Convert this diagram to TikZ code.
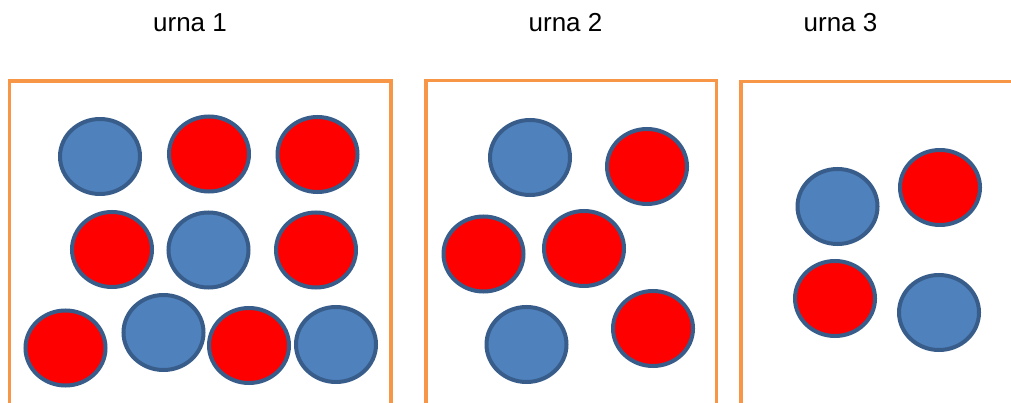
\documentclass[tikz,border=0pt]{standalone}
\usepackage{fontspec}
\setmainfont{Liberation Sans}
\definecolor{urnorange}{HTML}{F79646}
\definecolor{ballblue}{HTML}{4F81BD}
\definecolor{ballred}{HTML}{FF0000}
\definecolor{balledge}{HTML}{385D8A}
\tikzset{
  urnbox/.style={draw=urnorange, line width=3.8pt},
  ball/.style={ellipse, draw=balledge, line width=4pt, minimum width=80pt, minimum height=75pt, inner sep=0pt},
  bblue/.style={ball, fill=ballblue},
  bred/.style={ball, fill=ballred},
  urnlabel/.style={anchor=base, font=\fontsize{26}{31}\selectfont, inner sep=0pt}
}
\usetikzlibrary{shapes.geometric}
\begin{document}
\begin{tikzpicture}[x=1pt,y=-1pt]
\useasboundingbox (0,0) rectangle (1011,403);
\clip (0,0) rectangle (1011,403);
\fill[white] (0,0) rectangle (1011,403);
% labels
\node[urnlabel] (l1) at (190,31.7) {urna 1};
\node[urnlabel] (l2) at (565.5,31.7) {urna 2};
\node[urnlabel] (l3) at (840.5,31.7) {urna 3};
% boxes
\draw[urnbox] (9.5,406) -- (9.5,81) -- (391,81) -- (391,406);
\draw[urnbox] (426,406) -- (426,80.5) -- (716.5,80.5) -- (716.5,406);
\draw[urnbox] (741,406) -- (741,81.5) -- (1020,81.5);
% urna 1
\node[bblue] (a1) at (100,156.5) {};
\node[bred]  (a2) at (209,154) {};
\node[bred]  (a3) at (317.5,154.5) {};
\node[bred]  (a4) at (112,249.5) {};
\node[bblue] (a5) at (208.5,250) {};
\node[bred]  (a6) at (316,250) {};
\node[bred]  (a7) at (65.5,348) {};
\node[bblue] (a8) at (163.5,332.5) {};
\node[bred]  (a9) at (249,345.5) {};
\node[bblue] (a10) at (336,344.5) {};
% urna 2
\node[bblue] (b1) at (530,157.5) {};
\node[bred]  (b2) at (647,166.5) {};
\node[bred]  (b3) at (483.5,254) {};
\node[bred]  (b4) at (584,248.5) {};
\node[bblue] (b5) at (526.5,344.5) {};
\node[bred]  (b6) at (653,328.5) {};
% urna 3
\node[bblue] (c1) at (837.5,206.5) {};
\node[bred]  (c2) at (940,187.5) {};
\node[bred]  (c3) at (835,298.5) {};
\node[bblue] (c4) at (939,312.5) {};
\end{tikzpicture}
\end{document}
